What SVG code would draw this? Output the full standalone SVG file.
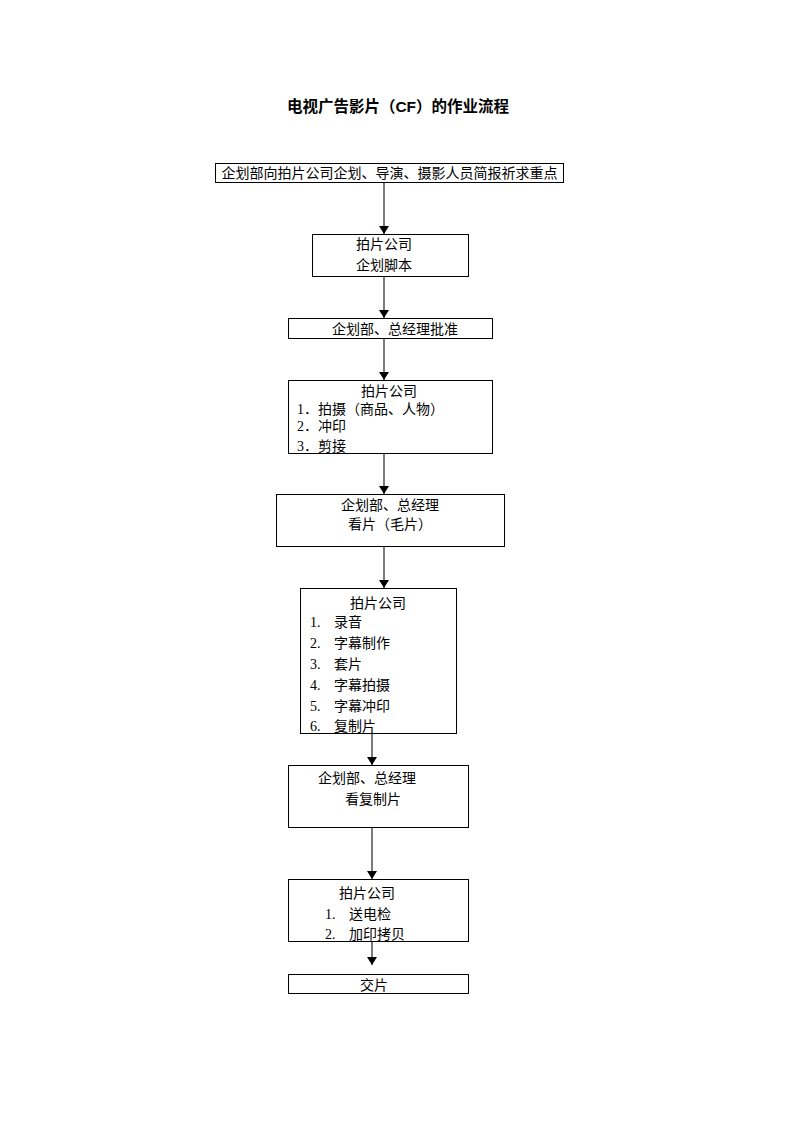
<svg xmlns="http://www.w3.org/2000/svg" width="793" height="1122" viewBox="0 0 793 1122">
<style>
.bx{fill:#fff;stroke:#000;stroke-width:1}
.t{font-family:"Liberation Serif","Noto Sans CJK SC",serif;font-size:14px;fill:#000}
.c{text-anchor:middle}
.ttl{font-family:"Liberation Sans","Noto Sans CJK SC",sans-serif;font-size:15.5px;font-weight:bold;text-anchor:middle;fill:#000}
.ln{stroke:#333;stroke-width:1.3;fill:none;marker-end:url(#ah)}
</style>
<defs>
<marker id="ah" viewBox="0 0 8 10" refX="8" refY="5" markerWidth="8" markerHeight="10" markerUnits="userSpaceOnUse" orient="auto">
<path d="M0,0 L8,5 L0,10 Z" fill="#000"/>
</marker>
</defs>
<rect width="793" height="1122" fill="#fff"/>
<text class="ttl" x="398" y="112">电视广告影片（CF）的作业流程</text>
<g id="connectors">
<line class="ln" x1="384" y1="182" x2="384" y2="234"/>
<line class="ln" x1="384" y1="276" x2="384" y2="318"/>
<line class="ln" x1="384" y1="338" x2="384" y2="380"/>
<line class="ln" x1="384" y1="453" x2="384" y2="494"/>
<line class="ln" x1="384" y1="546" x2="384" y2="588"/>
<line class="ln" x1="372" y1="733" x2="372" y2="765"/>
<line class="ln" x1="372" y1="827" x2="372" y2="879"/>
<line class="ln" x1="372" y1="941" x2="372" y2="965"/>
</g>
<g id="n1"><rect class="bx" x="215.5" y="163.5" width="348" height="19"/><text class="t c" x="389.5" y="178">企划部向拍片公司企划、导演、摄影人员简报祈求重点</text></g>
<g id="n2"><rect class="bx" x="312.5" y="234.5" width="156" height="42"/><text class="t c" x="384" y="249">拍片公司</text><text class="t c" x="384" y="270">企划脚本</text></g>
<g id="n3"><rect class="bx" x="288.5" y="318.5" width="204" height="20"/><text class="t c" x="395" y="334">企划部、总经理批准</text></g>
<g id="n4"><rect class="bx" x="288.5" y="380.5" width="204" height="73"/><text class="t c" x="389" y="396">拍片公司</text><text class="t" x="297" y="414">1．拍摄（商品、人物）</text><text class="t" x="297" y="431">2．冲印</text><text class="t" x="297" y="451">3．剪接</text></g>
<g id="n5"><rect class="bx" x="276.5" y="494.5" width="228" height="52"/><text class="t c" x="390" y="510">企划部、总经理</text><text class="t c" x="390" y="529">看片（毛片）</text></g>
<g id="n6"><rect class="bx" x="300.5" y="588.5" width="156" height="145"/><text class="t c" x="378" y="608">拍片公司</text>
<text class="t" x="310" y="627">1.</text><text class="t" x="334" y="627">录音</text>
<text class="t" x="310" y="648">2.</text><text class="t" x="334" y="648">字幕制作</text>
<text class="t" x="310" y="669">3.</text><text class="t" x="334" y="669">套片</text>
<text class="t" x="310" y="690">4.</text><text class="t" x="334" y="690">字幕拍摄</text>
<text class="t" x="310" y="711">5.</text><text class="t" x="334" y="711">字幕冲印</text>
<text class="t" x="310" y="731">6.</text><text class="t" x="334" y="731">复制片</text></g>
<g id="n7"><rect class="bx" x="288.5" y="765.5" width="180" height="62"/><text class="t c" x="367" y="783">企划部、总经理</text><text class="t c" x="373" y="804">看复制片</text></g>
<g id="n8"><rect class="bx" x="288.5" y="879.5" width="180" height="62"/><text class="t c" x="367" y="898">拍片公司</text><text class="t" x="325" y="919">1.</text><text class="t" x="349" y="919">送电检</text><text class="t" x="325" y="939">2.</text><text class="t" x="349" y="939">加印拷贝</text></g>
<g id="n9"><rect class="bx" x="288.5" y="974.5" width="180" height="19"/><text class="t c" x="374" y="990">交片</text></g>
</svg>
